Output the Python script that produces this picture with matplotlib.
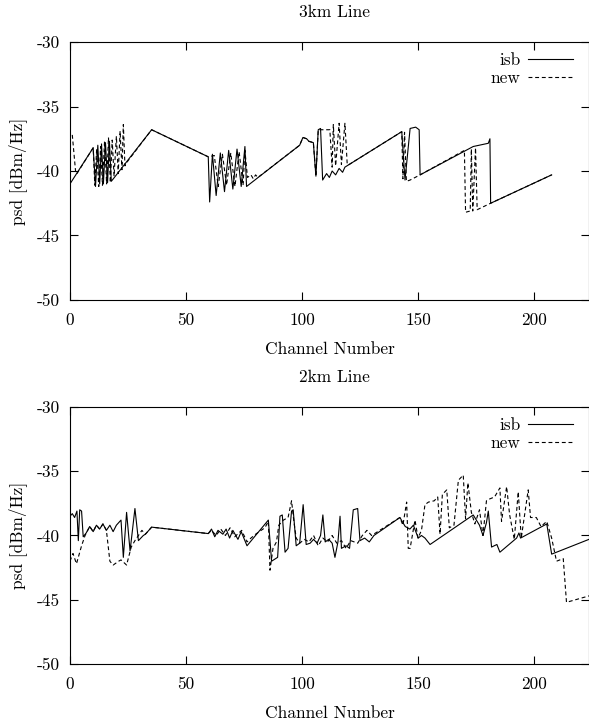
import matplotlib
matplotlib.use("Agg")
import matplotlib.pyplot as plt

# 3km line: isb (solid) and new (dashed) psd per channel
km3_isb_x = [0, 10, 11, 12, 12.8, 13.6, 14.4, 15.3, 16.2, 17, 17.8, 18.7, 35.2, 59.6, 60.2, 61.4, 63,
             64.8, 66.6, 68.4, 70.2, 72, 73.8, 75.4, 76.1, 99, 100.4, 102, 103, 104.9, 106, 107, 108,
             108.9, 110.6, 111.8, 113, 114.5, 116, 117.5, 118.5, 143, 144.4, 146.6, 149, 150.5, 150.9,
             173.8, 180.3, 181, 181.3, 207.6]
km3_isb_y = [-41.0, -38.2, -41.2, -38.0, -41.0, -37.9, -41.0, -37.8, -40.9, -37.7, -40.8, -40.6, -36.8,
             -38.9, -42.4, -38.7, -41.9, -38.6, -41.6, -38.4, -41.4, -38.3, -41.2, -38.1, -41.2, -38.0,
             -37.4, -37.5, -37.7, -37.8, -40.4, -36.8, -36.7, -40.7, -40.2, -40.5, -40.0, -40.3, -39.8,
             -40.1, -39.7, -36.95, -40.7, -36.7, -36.6, -36.8, -40.3, -38.1, -37.85, -37.5, -42.5, -40.3]

km3_new_x = [1, 2.5, 3, 10, 10.7, 11.5, 12.4, 13.2, 14, 14.9, 15.8, 16.6, 17.4, 18.2, 19, 20, 20.8, 21.6,
             22.4, 23, 23.7, 24.2, 35.2, 59.6, 62.2, 63.9, 65.7, 67.5, 69.3, 71.1, 72.9, 74.6, 75.4, 76.5,
             78, 79, 80, 81, 99, 100.4, 102, 103, 104.9, 106, 107, 112, 113, 113.5, 114.5, 116, 117, 118.5,
             119.5, 120, 143, 143.5, 144.2, 145, 146.6, 150.9, 170, 170.5, 172.5, 173, 173.6, 174.8, 175.5,
             181.3, 207.6]
km3_new_y = [-37.2, -40.2, -40.2, -38.2, -41.1, -38.3, -41.2, -38.1, -41.1, -37.7, -41.0, -37.4, -40.9,
             -37.6, -40.4, -37.3, -40.2, -36.9, -39.9, -36.4, -39.6, -39.4, -36.8, -38.9, -38.8, -41.2,
             -38.7, -41.1, -38.6, -41.2, -38.5, -41.1, -38.4, -40.5, -40.3, -40.6, -40.3, -40.5, -38.0,
             -37.4, -37.5, -37.7, -37.8, -40.4, -36.8, -36.8, -39.7, -36.4, -39.6, -36.3, -39.5, -36.3,
             -39.5, -39.53, -36.95, -40.6, -37.0, -40.8, -40.7, -40.3, -38.4, -43.2, -43.1, -38.3, -43.1,
             -38.2, -43.0, -42.5, -40.3]

# 2km line
km2_isb_x = [0, 1, 2, 3, 3.6, 4.2, 5, 5.7, 7, 8.5, 10, 11.4, 12.8, 14.2, 15.7, 17.2, 18.6, 20, 22, 23,
             24.4, 25.9, 28, 29.5, 31.6, 32.5, 35.2, 59.6, 61, 62.4, 63.8, 65.9, 67.3, 68.8, 70.2, 72.4,
             73.8, 76.3, 85.5, 86.9, 89.5, 90.5, 91.5, 92.7, 94, 95.5, 96.2, 97.5, 99, 100.5, 101.8,
             103.5, 105, 106.5, 108, 109, 110, 111.5, 113, 114.2, 115.5, 116.4, 117, 119, 120.5, 122.1,
             124, 125, 127, 129, 131, 142.2, 143.5, 144.5, 146.5, 148, 150.1, 151.5, 153, 155.2, 173.8,
             176.5, 178, 179.5, 180.3, 181.7, 184, 185.3, 192.5, 193.5, 194.2, 205.5, 207.6, 223.7]
km2_isb_y = [-38.5, -38.3, -38.6, -38.1, -40.4, -38.0, -38.1, -40.1, -39.8, -39.3, -39.7, -39.2, -39.5,
             -39.1, -39.6, -39.2, -39.7, -39.2, -38.8, -41.7, -38.2, -41.2, -37.9, -40.4, -40.0, -39.9,
             -39.35, -39.85, -39.5, -40.1, -39.6, -39.9, -39.5, -40.2, -39.6, -40.3, -39.7, -40.8, -38.8,
             -42.0, -41.7, -38.5, -38.4, -41.3, -41.0, -38.1, -38.0, -40.8, -40.6, -37.6, -40.7, -40.6,
             -40.3, -40.6, -40.0, -38.4, -40.5, -40.3, -40.6, -41.7, -40.5, -38.5, -41.0, -40.8, -41.0,
             -38.0, -37.9, -40.4, -40.2, -40.5, -40.0, -38.6, -39.0, -39.3, -39.5, -39.2, -40.2, -40.0,
             -40.2, -40.7, -38.4, -39.2, -40.0, -39.0, -38.1, -40.9, -40.7, -41.3, -40.2, -39.8, -40.2,
             -39.1, -41.45, -40.3]

km2_new_x = [0, 1.3, 2.8, 5, 6.5, 8.5, 10, 11.4, 12.8, 14.2, 15.7, 17.2, 18.6, 21, 22, 24.4, 26.4, 28,
             29.5, 31, 32.5, 35.2, 59.6, 61, 63, 65, 67, 69, 71, 74, 76.3, 78, 80, 84, 85.5, 86.2, 87.5,
             89, 90, 92, 94, 95.5, 96.5, 97.5, 99, 101, 103, 105, 107, 109, 111, 113, 115, 117, 119, 121,
             124, 126, 128, 130, 142.2, 143.5, 145.1, 145.8, 146.6, 148.7, 150, 151.5, 153, 154.5, 157,
             158.5, 159.5, 160.5, 162.4, 163.5, 165.5, 167.4, 169.5, 170.5, 171.5, 173, 174.5, 176.5,
             178, 179.5, 180.3, 183, 185.3, 186, 188.2, 189.5, 191.5, 193.2, 194.5, 197.5, 198.5, 201,
             203, 205.5, 207.6, 209.7, 212.6, 214, 223.7]
km2_new_y = [-42.0, -41.4, -42.2, -40.8, -40.0, -39.3, -39.7, -39.2, -39.5, -39.1, -39.6, -42.0, -42.3,
             -42.0, -41.9, -42.3, -40.9, -40.4, -40.0, -39.6, -39.9, -39.35, -39.85, -39.6, -40.0, -39.5,
             -40.0, -39.4, -40.1, -39.6, -40.5, -40.2, -39.9, -39.4, -38.9, -42.7, -41.0, -40.5, -39.2,
             -38.8, -38.6, -37.3, -38.9, -40.2, -40.6, -40.3, -40.5, -40.0, -40.8, -40.2, -40.5, -40.0,
             -40.6, -40.4, -41.0, -40.4, -40.6, -40.0, -39.6, -40.0, -38.6, -39.2, -37.4, -41.0, -41.0,
             -38.8, -40.2, -39.6, -37.6, -37.4, -37.3, -37.0, -39.9, -36.8, -36.45, -39.4, -39.2, -35.7,
             -35.3, -38.7, -35.9, -38.2, -39.1, -38.0, -40.0, -37.3, -37.2, -37.0, -36.3, -38.9, -36.2,
             -38.4, -40.3, -36.6, -40.2, -36.45, -38.6, -38.6, -39.3, -38.9, -40.2, -42.0, -41.8, -45.2,
             -44.7]

y_ticks = [-50, -45, -40, -35, -30]
x_ticks = [0, 50, 100, 150, 200]

plt.rcParams["font.family"] = "cmr10"
plt.rcParams["axes.unicode_minus"] = False
plt.rcParams["font.size"] = 12.5


def draw_panel(ax, title, isb_x, isb_y, new_x, new_y):
    ax.plot(isb_x, isb_y, color="black", lw=0.8, label="isb")
    ax.plot(new_x, new_y, color="black", lw=0.8, linestyle=(0, (3.5, 2.5)), label="new")
    ax.set_xlim(0, 223.7)
    ax.set_ylim(-50, -30)
    ax.set_xticks(x_ticks)
    ax.set_yticks(y_ticks)
    ax.tick_params(direction="in", top=True, right=True, length=5.5, width=0.8)
    ax.tick_params(axis="x", pad=9)
    ax.tick_params(axis="y", pad=7)
    for sp in ax.spines.values():
        sp.set_linewidth(0.8)
    ax.set_title(title, pad=18, fontsize=12.5, x=0.51)
    ax.set_xlabel("Channel Number", labelpad=10)
    ax.set_ylabel("psd [dBm/Hz]", labelpad=7)
    ax.legend(loc="upper right", bbox_to_anchor=(0.99, 1.0), frameon=False, markerfirst=False,
              handlelength=2.6, borderaxespad=0.2, labelspacing=0.15, handletextpad=0.45)


fig = plt.figure(figsize=(5.89, 7.26), dpi=100)
ax1 = fig.add_axes([0.1188, 0.5868, 0.8812, 0.3553])
ax2 = fig.add_axes([0.1188, 0.0854, 0.8812, 0.3540])
draw_panel(ax1, "3km Line", km3_isb_x, km3_isb_y, km3_new_x, km3_new_y)
draw_panel(ax2, "2km Line", km2_isb_x, km2_isb_y, km2_new_x, km2_new_y)

fig.savefig("out.png", dpi=100)
